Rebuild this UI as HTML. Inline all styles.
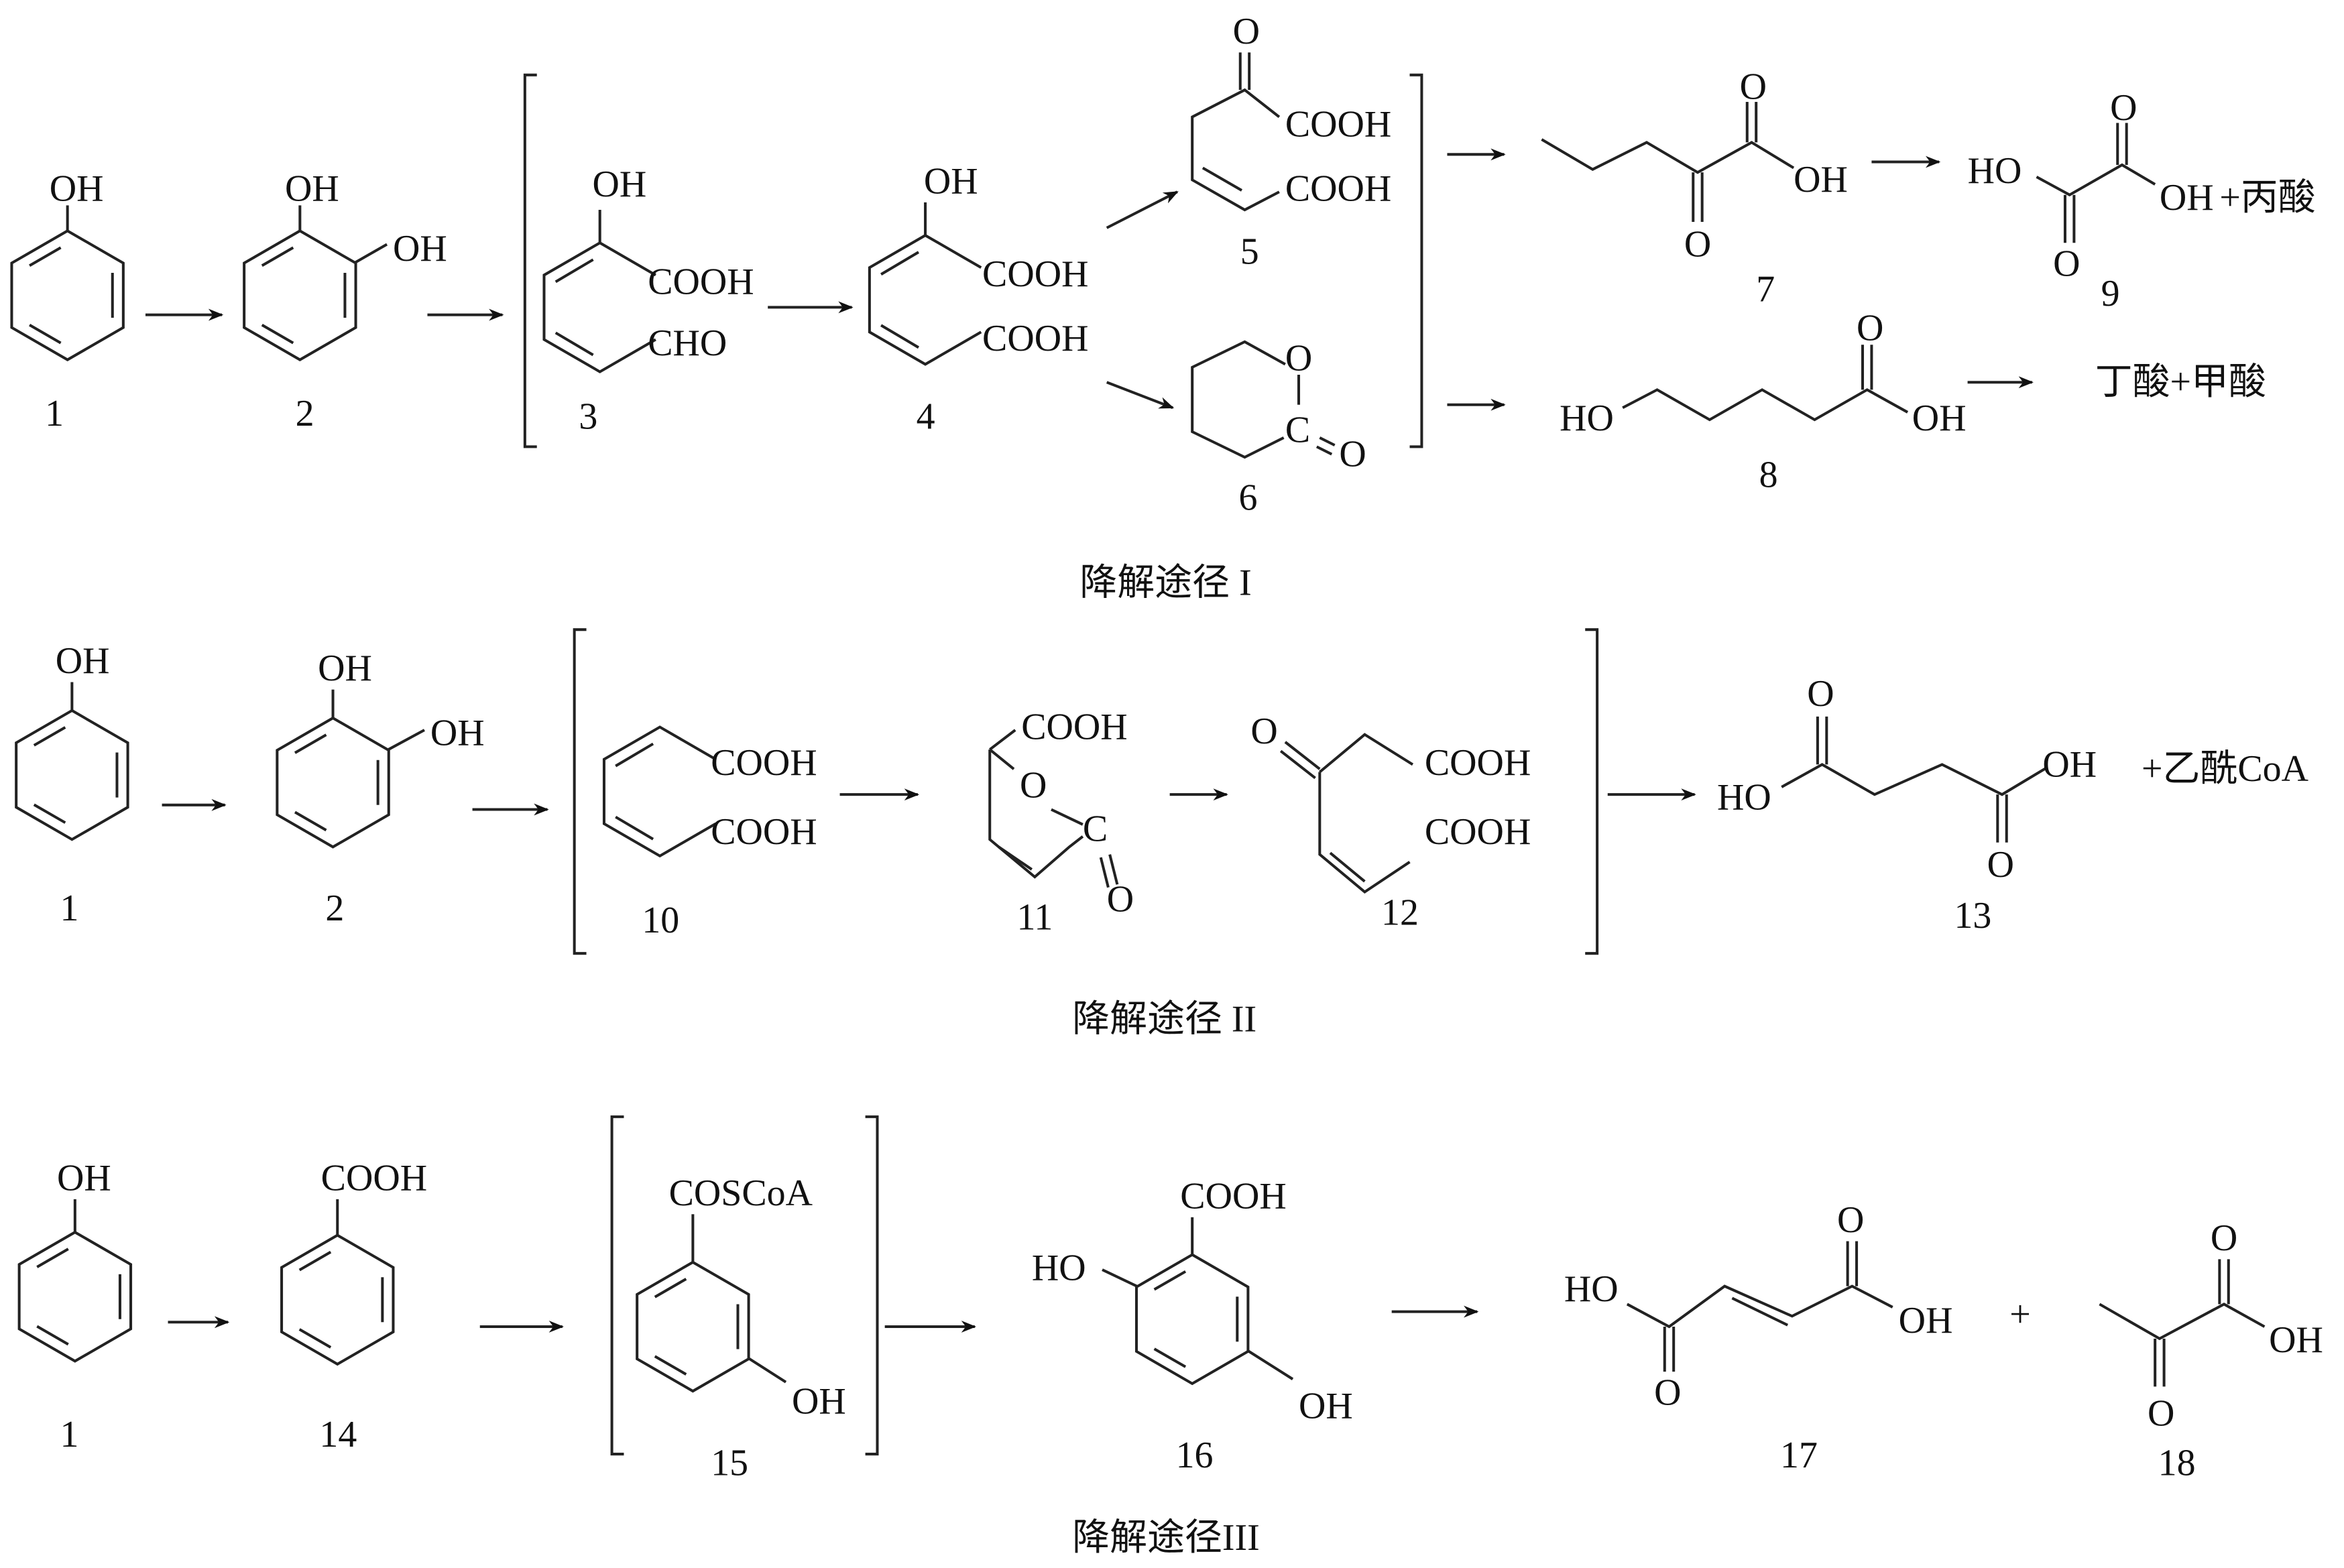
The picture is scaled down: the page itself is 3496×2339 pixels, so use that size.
<!DOCTYPE html>
<html><head><meta charset="utf-8">
<style>
html,body{margin:0;padding:0;background:#fff;}
svg{display:block;}
text{font-family:"Liberation Serif","Noto Serif CJK SC","Noto Sans CJK SC",serif;font-size:25px;fill:#111;}
.cn{font-family:"Liberation Serif","Noto Sans CJK SC",sans-serif;font-size:25px;}
</style></head>
<body>
<svg width="3496" height="2339" viewBox="0 0 1563 1046" preserveAspectRatio="none" xmlns="http://www.w3.org/2000/svg">
<defs>
<g id="bz" fill="none" stroke="#222" stroke-width="1.8">
<polygon points="0,-43 37.2,-21.5 37.2,21.5 0,43 -37.2,21.5 -37.2,-21.5"/>
<line x1="30" y1="-15" x2="30" y2="15"/>
<line x1="-4.5" y1="31.8" x2="-25.3" y2="19.8"/>
<line x1="-25.3" y1="-19.8" x2="-4.5" y2="-31.8"/>
</g>
<g id="open" fill="none" stroke="#222" stroke-width="1.8">
<polyline points="37.2,-21.5 0,-43 -37.2,-21.5 -37.2,21.5 0,43 37.2,21.5"/>
<line x1="-29.5" y1="-17" x2="-4.5" y2="-31.8"/>
<line x1="-29.5" y1="17" x2="-4.5" y2="31.8"/>
</g>
<marker id="ah" markerWidth="10" markerHeight="8" refX="9" refY="4" orient="auto" markerUnits="userSpaceOnUse">
<path d="M0,0 L10,4 L0,8 L3,4 z" fill="#111"/>
</marker>
</defs>
<g stroke="#222" stroke-width="1.8" fill="none">
<g marker-end="url(#ah)">
<line x1="97" y1="210" x2="148" y2="210"/>
<line x1="285" y1="210" x2="335" y2="210"/>
<line x1="512" y1="205" x2="568" y2="205"/>
<line x1="738" y1="152" x2="785" y2="128"/>
<line x1="738" y1="255" x2="782" y2="272"/>
<line x1="965" y1="103" x2="1003" y2="103"/>
<line x1="965" y1="270" x2="1003" y2="270"/>
<line x1="1248" y1="108" x2="1293" y2="108"/>
<line x1="1312" y1="255" x2="1355" y2="255"/>
<line x1="108" y1="537" x2="150" y2="537"/>
<line x1="315" y1="540" x2="365" y2="540"/>
<line x1="560" y1="530" x2="612" y2="530"/>
<line x1="780" y1="530" x2="818" y2="530"/>
<line x1="1072" y1="530" x2="1130" y2="530"/>
<line x1="112" y1="882" x2="152" y2="882"/>
<line x1="320" y1="885" x2="375" y2="885"/>
<line x1="590" y1="885" x2="650" y2="885"/>
<line x1="928" y1="875" x2="985" y2="875"/>
</g>
<polyline points="358,50 350,50 350,298 358,298"/>
<polyline points="940,50 948,50 948,298 940,298"/>
<polyline points="391,420 383,420 383,636 391,636"/>
<polyline points="1057,420 1065,420 1065,636 1057,636"/>
<polyline points="416,745 408,745 408,970 416,970"/>
<polyline points="577,745 585,745 585,970 577,970"/>
</g>
<g stroke="#222" stroke-width="1.8" fill="none">
<use href="#bz" x="45" y="197"/><line x1="45" y1="154" x2="45" y2="137"/>
<use href="#bz" x="200" y="197"/><line x1="200" y1="154" x2="200" y2="137"/><line x1="237" y1="175" x2="258" y2="163"/>
<use href="#open" x="400" y="205"/><line x1="400" y1="162" x2="400" y2="140"/>
<use href="#open" x="617" y="200"/><line x1="617" y1="157" x2="617" y2="135"/>
<line x1="827" y1="35" x2="827" y2="60"/><line x1="833" y1="35" x2="833" y2="60"/>
<polyline points="853,78 830,60 795,78 795,120 830,140 853,128"/>
<line x1="802" y1="112" x2="828" y2="127"/>
<polyline points="857,243 830,228 795,245 795,288 830,305 856,292"/>
<line x1="866" y1="250" x2="866" y2="270"/>
<line x1="880" y1="292" x2="890" y2="297"/><line x1="878" y1="298" x2="888" y2="303"/>
<polyline points="1028,93 1062,113 1098,95 1132,115 1168,95 1196,112"/>
<line x1="1129" y1="115" x2="1129" y2="148"/><line x1="1135" y1="115" x2="1135" y2="148"/>
<line x1="1165" y1="95" x2="1165" y2="68"/><line x1="1171" y1="95" x2="1171" y2="68"/>
<polyline points="1358,118 1380,130 1415,110 1437,123"/>
<line x1="1377" y1="130" x2="1377" y2="162"/><line x1="1383" y1="130" x2="1383" y2="162"/>
<line x1="1412" y1="110" x2="1412" y2="82"/><line x1="1418" y1="110" x2="1418" y2="82"/>
<polyline points="1082,272 1105,260 1140,280 1175,260 1210,280 1245,260 1272,275"/>
<line x1="1242" y1="260" x2="1242" y2="230"/><line x1="1248" y1="260" x2="1248" y2="230"/>
<use href="#bz" x="48" y="517"/><line x1="48" y1="474" x2="48" y2="455"/>
<use href="#bz" x="222" y="522"/><line x1="222" y1="479" x2="222" y2="460"/><line x1="259" y1="500" x2="283" y2="487"/>
<use href="#open" x="440" y="528"/>
<line x1="660" y1="500" x2="677" y2="487"/>
<polyline points="660,500 660,560 690,585 713,565 722,558"/>
<line x1="666" y1="565" x2="688" y2="580"/>
<line x1="660" y1="500" x2="676" y2="513"/>
<line x1="701" y1="540" x2="722" y2="550"/>
<line x1="734" y1="572" x2="739" y2="592"/><line x1="740" y1="570" x2="745" y2="590"/>
<line x1="857" y1="495" x2="880" y2="513"/><line x1="854" y1="501" x2="877" y2="519"/>
<polyline points="880,515 910,490 942,510"/>
<polyline points="880,515 880,570 910,595 940,575"/>
<line x1="887" y1="569" x2="910" y2="588"/>
<polyline points="1188,525 1215,510 1250,530 1295,510 1335,530 1365,512"/>
<line x1="1212" y1="510" x2="1212" y2="478"/><line x1="1218" y1="510" x2="1218" y2="478"/>
<line x1="1332" y1="530" x2="1332" y2="562"/><line x1="1338" y1="530" x2="1338" y2="562"/>
<use href="#bz" x="50" y="865"/><line x1="50" y1="822" x2="50" y2="800"/>
<use href="#bz" x="225" y="867"/><line x1="225" y1="824" x2="225" y2="800"/>
<use href="#bz" x="462" y="885"/><line x1="462" y1="842" x2="462" y2="810"/><line x1="499" y1="906" x2="524" y2="922"/>
<use href="#bz" x="795" y="880"/><line x1="795" y1="837" x2="795" y2="812"/>
<line x1="758" y1="858" x2="735" y2="847"/><line x1="832" y1="901" x2="862" y2="920"/>
<polyline points="1085,870 1113,885 1150,858 1195,878 1235,858 1262,872"/>
<line x1="1155" y1="866" x2="1192" y2="884"/>
<line x1="1110" y1="885" x2="1110" y2="915"/><line x1="1116" y1="885" x2="1116" y2="915"/>
<line x1="1232" y1="858" x2="1232" y2="828"/><line x1="1238" y1="858" x2="1238" y2="828"/>
<polyline points="1400,870 1440,893 1483,870 1510,885"/>
<line x1="1437" y1="893" x2="1437" y2="925"/><line x1="1443" y1="893" x2="1443" y2="925"/>
<line x1="1480" y1="870" x2="1480" y2="840"/><line x1="1486" y1="870" x2="1486" y2="840"/>
</g>
<g>
<text x="33" y="134">OH</text><text x="30" y="284">1</text>
<text x="190" y="134">OH</text><text x="262" y="174">OH</text><text x="197" y="284">2</text>
<text x="395" y="131">OH</text><text x="432" y="196">COOH</text><text x="432" y="237">CHO</text><text x="386" y="286">3</text>
<text x="616" y="129">OH</text><text x="655" y="191">COOH</text><text x="655" y="234">COOH</text><text x="611" y="286">4</text>
<text x="822" y="29">O</text><text x="857" y="91">COOH</text><text x="857" y="134">COOH</text><text x="827" y="176">5</text>
<text x="857" y="247">O</text><text x="857" y="295">C</text><text x="893" y="311">O</text><text x="826" y="340">6</text>
<text x="1160" y="66">O</text><text x="1196" y="128">OH</text><text x="1123" y="171">O</text><text x="1171" y="201">7</text>
<text x="1312" y="122">HO</text><text x="1407" y="80">O</text><text x="1440" y="140">OH</text><text class="cn" x="1480" y="140">+丙酸</text>
<text x="1369" y="184">O</text><text x="1401" y="204">9</text>
<text x="1238" y="227">O</text><text x="1040" y="287">HO</text><text x="1275" y="287">OH</text><text x="1173" y="325">8</text>
<text class="cn" x="1397" y="263">丁酸+甲酸</text>
<text class="cn" x="720" y="397">降解途径 I</text>
<text x="37" y="449">OH</text><text x="40" y="614">1</text>
<text x="212" y="454">OH</text><text x="287" y="497">OH</text><text x="217" y="614">2</text>
<text x="474" y="517">COOH</text><text x="474" y="563">COOH</text><text x="428" y="622">10</text>
<text x="681" y="493">COOH</text><text x="680" y="532">O</text><text x="722" y="561">C</text><text x="738" y="608">O</text><text x="678" y="620">11</text>
<text x="834" y="496">O</text><text x="950" y="517">COOH</text><text x="950" y="563">COOH</text><text x="921" y="617">12</text>
<text x="1205" y="471">O</text><text x="1145" y="540">HO</text><text x="1362" y="518">OH</text><text x="1325" y="585">O</text><text x="1303" y="619">13</text>
<text class="cn" x="1428" y="521">+乙酰CoA</text>
<text class="cn" x="715" y="688">降解途径 II</text>
<text x="38" y="794">OH</text><text x="40" y="965">1</text>
<text x="214" y="794">COOH</text><text x="213" y="965">14</text>
<text x="446" y="804">COSCoA</text><text x="528" y="943">OH</text><text x="474" y="984">15</text>
<text x="787" y="806">COOH</text><text x="688" y="854">HO</text><text x="866" y="946">OH</text><text x="784" y="979">16</text>
<text x="1043" y="868">HO</text><text x="1225" y="822">O</text><text x="1266" y="889">OH</text><text x="1103" y="937">O</text><text x="1187" y="979">17</text>
<text x="1340" y="885">+</text>
<text x="1474" y="834">O</text><text x="1513" y="902">OH</text><text x="1432" y="951">O</text><text x="1439" y="984">18</text>
<text class="cn" x="715" y="1034">降解途径III</text>
</g>
</svg>
</body></html>
